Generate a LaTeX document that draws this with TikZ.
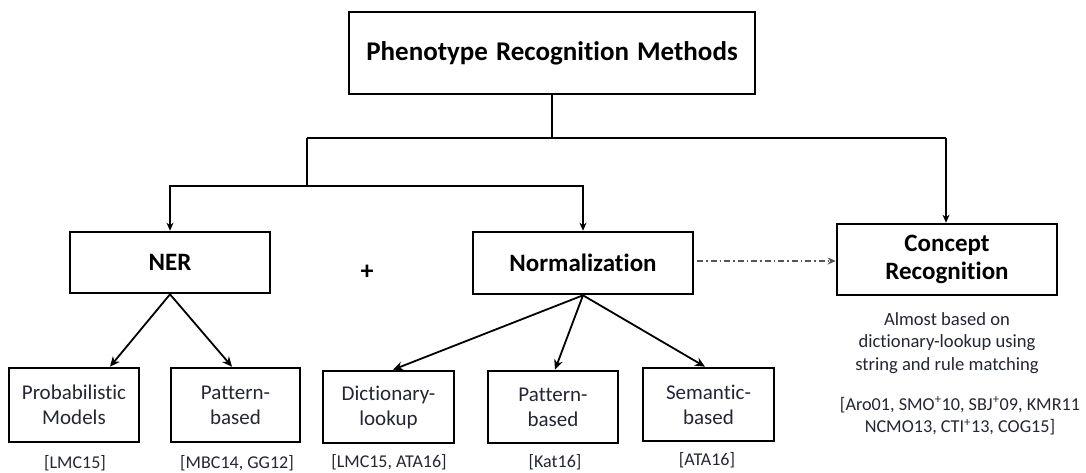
\documentclass[tikz,border=0pt]{standalone}
\usepackage{fontspec}
\setmainfont{Carlito}[Ligatures=CommonOff]
\usetikzlibrary{arrows.meta}
\definecolor{txt}{HTML}{222636}
\definecolor{dd}{HTML}{555555}
\tikzset{
  box/.style={draw=black, line width=2.6pt, rectangle, inner sep=2pt, align=center},
  head/.style={font=\fontsize{25}{28}\selectfont\bfseries, text=black},
  leaf/.style={box, font=\fontsize{21}{25}\selectfont, text=txt},
  ref/.style={font=\fontsize{18}{22}\selectfont, text=txt, align=center},
  conn/.style={line width=1.1pt, draw=black},
  carr/.style={conn, -{Stealth[length=8pt,width=7pt]}},
  karr/.style={line width=1.8pt, draw=black, -{Stealth[length=10pt,width=9pt]}},
  dd/.style={line width=1.1pt, draw=dd, dash pattern=on 6pt off 3pt on 1.5pt off 3pt, -{Stealth[length=8pt,width=7pt]}}
}
\begin{document}
\begin{tikzpicture}[x=1pt,y=-1pt]
\useasboundingbox (0,0) rectangle (1086,472);
% nodes
\node[box, minimum width=406pt, minimum height=82pt, font=\fontsize{27}{30}\selectfont\bfseries] (top) at (552,53) {Phenotype\hspace{8pt}Recognition\hspace{8pt}Methods};
\node[box, head, minimum width=200pt, minimum height=61pt] (ner) at (170,262.5) {NER};
\node[box, head, minimum width=220pt, minimum height=62pt] (norm) at (583,263) {Normalization};
\node[box, head, minimum width=220pt, minimum height=71pt] (concept) at (947,259.5) {Concept\\Recognition};
\node[font=\fontsize{26}{28}\selectfont\bfseries] (plus) at (367,272) {+};

\node[leaf, minimum width=130pt, minimum height=74pt] (prob) at (74,405) {Probabilistic\\Models};
\node[leaf, minimum width=129pt, minimum height=74pt] (pat1) at (235.5,405) {Pattern-\\based};
\node[leaf, minimum width=131pt, minimum height=72pt] (dict) at (388.5,407) {Dictionary-\\lookup};
\node[leaf, minimum width=130pt, minimum height=72pt] (pat2) at (553,407) {Pattern-\\based};
\node[leaf, minimum width=131pt, minimum height=73pt] (sem) at (708.5,404.5) {Semantic-\\based};

\node[ref] (r1) at (75,463) {[LMC15]};
\node[ref] (r2) at (237,463) {[MBC14, GG12]};
\node[ref] (r3) at (389,462) {[LMC15, ATA16]};
\node[ref] (r4) at (555,462) {[Kat16]};
\node[ref] (r5) at (707,460) {[ATA16]};
\node[ref, font=\fontsize{18.6}{22.5}\selectfont] (cdesc) at (947,343) {Almost based on\\dictionary-lookup using\\string and rule matching};
\node[ref, font=\fontsize{18.2}{22.5}\selectfont] (crefs) at (960,416) {[Aro01, SMO\textsuperscript{+}10, SBJ\textsuperscript{+}09, KMR11\\NCMO13, CTI\textsuperscript{+}13, COG15]};

% trunk
\coordinate (j1) at (552,138);
\coordinate (jl) at (307,138);
\coordinate (jr) at (946,138);
\coordinate (jl2) at (307,186);
\draw[conn] (top.south) -- (j1);
\draw[conn] (jl) -- (jr);
\draw[carr] (jr) -- (jr |- concept.north);
\draw[conn] (jl) -- (jl2);
\draw[carr] (jl2) -| (ner.north);
\draw[carr] (jl2) -| (norm.north);

% children
\draw[karr] (ner.south) -- ([xshift=36pt]prob.north);
\draw[karr] (ner.south) -- ([xshift=-3.5pt]pat1.north);
\draw[karr] (norm.south) -- ([xshift=4.5pt]dict.north);
\draw[karr] (norm.south) -- ([xshift=2pt]pat2.north);
\draw[karr] (norm.south) -- ([xshift=-3.5pt]sem.north);

% dash-dot
\coordinate (ddst) at ([xshift=3pt,yshift=2pt]norm.east);
\draw[dd] (ddst) -- (ddst -| concept.west);
\end{tikzpicture}
\end{document}
